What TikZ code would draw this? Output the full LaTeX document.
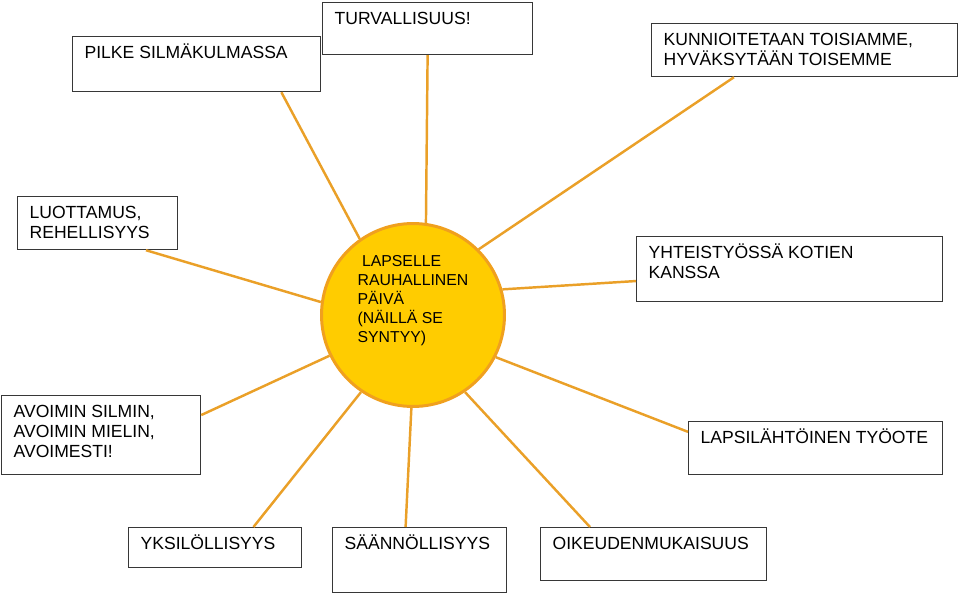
\documentclass[tikz,border=0pt]{standalone}
\usepackage{fontspec}
\setmainfont{Liberation Sans}
\usetikzlibrary{calc}
\definecolor{sunfill}{RGB}{255, 204, 0}
\definecolor{sunrim}{RGB}{240, 160, 30}
\definecolor{rayorange}{RGB}{234, 160, 40}
\definecolor{boxline}{RGB}{55, 55, 55}
\newlength{\pix}
\setlength{\pix}{0.02cm}
\newcommand{\boxtext}[3]{\parbox[t][\dimexpr#2\pix-0.26cm\relax][t]{\dimexpr#1\pix-0.48cm\relax}{\raggedright\rule{0pt}{9pt}#3}}

\begin{document}
\begin{tikzpicture}[x=0.02cm, y=-0.02cm,
  idea/.style={draw=boxline, line width=0.7pt, anchor=north west, inner xsep=0.24cm, inner ysep=0.13cm, font=\fontsize{10}{11.3}\selectfont},
  ray/.style={draw=rayorange, line width=1.4pt}]
  \useasboundingbox (0,0) rectangle (960,595);
  % the sun in the middle
  \node[circle, fill=sunfill, draw=sunrim, line width=1.7pt, minimum size=3.66cm, inner sep=0pt,
    label={[align=left, font=\fontsize{9}{10.8}\selectfont, yshift=0.28cm]center:~LAPSELLE\\RAUHALLINEN\\PÄIVÄ\\(NÄILLÄ SE\\SYNTYY)}] (sun) at (413,315) {};
  % boxes
  \node[idea] (pilke) at (72,36) {\boxtext{248}{55}{PILKE SILMÄKULMASSA}};
  \node[idea] (turva) at (322,2) {\boxtext{210}{52}{TURVALLISUUS!}};
  \node[idea] (kunnio) at (651,23) {\boxtext{306}{53}{KUNNIOITETAAN TOISIAMME,\\HYVÄKSYTÄÄN TOISEMME}};
  \node[idea] (luotto) at (17,196) {\boxtext{160}{53}{LUOTTAMUS,\\REHELLISYYS}};
  \node[idea] (yhteis) at (636,236) {\boxtext{306}{65}{YHTEISTYÖSSÄ KOTIEN\\KANSSA}};
  \node[idea] (avoin) at (1,395) {\boxtext{199}{79}{AVOIMIN SILMIN,\\AVOIMIN MIELIN,\\AVOIMESTI!}};
  \node[idea] (lapsi) at (688,421) {\boxtext{254}{53}{LAPSILÄHTÖINEN TYÖOTE}};
  \node[idea] (yksil) at (128,527) {\boxtext{173}{40}{YKSILÖLLISYYS}};
  \node[idea] (saann) at (332,527) {\boxtext{174}{65}{SÄÄNNÖLLISYYS}};
  \node[idea] (oikeus) at (540,527) {\boxtext{226}{53}{OIKEUDENMUKAISUUS}};
  % rays
  \draw[ray] ($(pilke.south west)!.84!(pilke.south east)$) -- (sun.125);
  \draw[ray] (turva.south) -- (sun.82);
  \draw[ray] ($(kunnio.south west)!.27!(kunnio.south east)$) -- (sun.45);
  \draw[ray] ($(luotto.south west)!.8!(luotto.south east)$) -- (sun.172);
  \draw[ray] ($(yhteis.north west)!.68!(yhteis.south west)$) -- (sun.16);
  \draw[ray] ($(avoin.north east)!.25!(avoin.south east)$) -- (sun.206);
  \draw[ray] ($(lapsi.north west)!.2!(lapsi.south west)$) -- (sun.333);
  \draw[ray] ($(yksil.north west)!.72!(yksil.north east)$) -- (sun.236);
  \draw[ray] ($(saann.north west)!.42!(saann.north east)$) -- (sun.269);
  \draw[ray] ($(oikeus.north west)!.22!(oikeus.north east)$) -- (sun.304);
\end{tikzpicture}
\end{document}
